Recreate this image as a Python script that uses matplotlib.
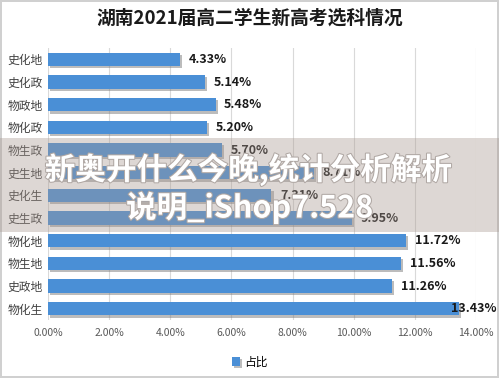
import matplotlib.pyplot as plt
import matplotlib.patheffects as pe
from matplotlib.patches import Rectangle

plt.rcParams['font.family'] = ['Noto Sans CJK SC', 'DejaVu Sans']

# data, top to bottom
categories = ["史化地", "史化政", "物政地", "物化政", "物生政", "史生地",
              "史化生", "史生政", "物化地", "物生地", "史政地", "物化生"]
share = [4.33, 5.14, 5.48, 5.20, 5.70, 8.71, 7.31, 9.95, 11.72, 11.56, 11.26, 13.43]
xticks = [0, 2, 4, 6, 8, 10, 12, 14]

title = "湖南2021届高二学生新高考选科情况"
legend_label = "占比"
watermark = ["新奥开什么今晚,统计分析解析", "说明_iShop7.528"]

bar_color = "#4a8fd6"

fig = plt.figure(figsize=(4.99, 3.78), dpi=100)
fig.patch.set_facecolor("white")
fig.patch.set_edgecolor("#d0d0d0")
fig.patch.set_linewidth(1.5)

ax = fig.add_axes([48 / 499, 1 - 320 / 378, 428 / 499, 272 / 378])
y = range(len(categories))
bars = ax.barh(y, share, height=0.6, color=bar_color, label=legend_label, zorder=3)
for b in bars:
    b.set_path_effects([pe.SimplePatchShadow(offset=(1.5, -1.5), shadow_rgbFace="#7a7a7a", alpha=0.5),
                        pe.Normal()])

# labels sit right of the bar end, but the last one is pulled back so it stays inside
for yi, v in zip(y, share):
    ax.text(min(v + 0.28, 13.18), yi, f"{v:.2f}%", va="center", ha="left", fontsize=9,
            fontweight="bold", color="#1a1a1a", zorder=4)

ax.set_xlim(0, 14)
ax.set_ylim(len(categories) - 0.5, -0.5)
ax.set_xticks(xticks)
ax.set_xticklabels([f"{t:.2f}%" for t in xticks], fontsize=7.5, color="#595959")
ax.set_yticks(list(y))
ax.set_yticklabels(categories, fontsize=8.5, color="#404040")
ax.tick_params(length=0, pad=6)
ax.tick_params(axis="y", pad=4)
ax.grid(axis="x", color="#d9d9d9", linewidth=0.8, zorder=0)
for s in ax.spines.values():
    s.set_visible(False)

fig.text(0.5, 1 - 18 / 378, title, ha="center", va="center", fontsize=13.5,
         fontweight="bold", color="#1a1a1a")

fig.legend(loc="center", bbox_to_anchor=(0.5, 1 - 362 / 378), frameon=False,
           fontsize=8.5, handlelength=0.7, handleheight=0.7, handletextpad=0.3)

# watermark overlay band
fig.patches.append(Rectangle((0, 1 - 232 / 378), 1, 94 / 378, transform=fig.transFigure,
                             facecolor="#a89890", alpha=0.38, edgecolor="none", zorder=5))
shadow = [pe.withStroke(linewidth=1.5, foreground="#b0a8a4")]
fig.text(0.497, 1 - 170 / 378, watermark[0], ha="center", va="center", fontsize=22,
         fontweight="heavy", color="white", zorder=6, path_effects=shadow)
fig.text(0.5, 1 - 208 / 378, watermark[1], ha="center", va="center", fontsize=22,
         fontweight="heavy", color="white", zorder=6, path_effects=shadow)

fig.savefig("out.png", dpi=100)
